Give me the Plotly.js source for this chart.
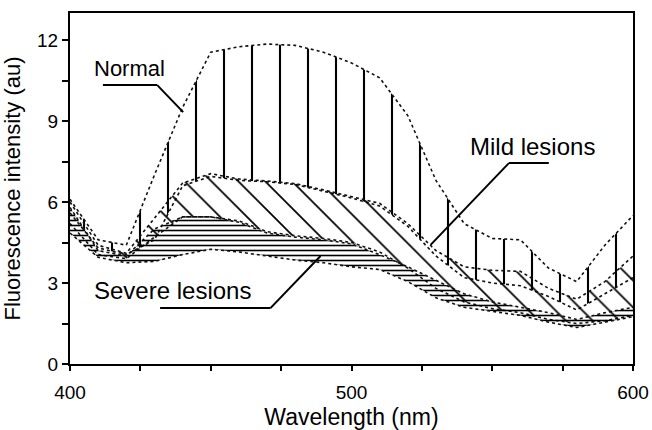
<!DOCTYPE html>
<html>
<head>
<meta charset="utf-8">
<script src="https://cdn.plot.ly/plotly-3.0.1.min.js"></script>
<style>html,body{margin:0;padding:0;background:#fff;}#chart{width:652px;height:430px;}</style>
</head>
<body>
<div id="chart"></div>
<script>
const wavelength = [400,410,420,430,440,450,460,470,480,490,500,510,520,530,540,550,560,570,580,590,600];
const normalUpper = [6.1,4.6,4.4,7.0,9.5,11.55,11.75,11.85,11.8,11.55,11.15,10.6,9.2,6.8,5.2,4.65,4.6,3.55,3.05,4.4,5.5];
const normalLower = [5.6,4.3,4.05,4.6,6.6,6.95,6.8,6.75,6.65,6.4,6.15,5.85,5.1,4.0,3.2,3.0,2.9,2.5,2.0,2.6,3.2];
const mildUpper   = [6.0,4.4,4.1,5.4,6.7,7.05,6.85,6.78,6.68,6.45,6.2,5.95,5.2,4.2,3.6,3.47,3.43,2.8,2.4,3.05,4.0];
const mildLower   = [5.2,4.05,3.9,4.7,5.45,5.45,5.3,4.9,4.75,4.65,4.5,4.15,3.55,2.8,2.3,2.05,1.9,1.65,1.5,1.6,1.8];
const severeUpper = [5.8,4.2,4.0,5.0,5.45,5.45,5.25,4.85,4.7,4.6,4.45,4.05,3.6,3.1,2.6,2.3,2.1,1.9,1.65,1.9,2.1];
const severeLower = [4.85,3.95,3.75,3.8,4.05,4.25,4.15,4.0,3.85,3.75,3.6,3.5,3.05,2.45,2.1,1.95,1.8,1.55,1.35,1.55,1.75];

const bandNames = ['Normal','Mild lesions','Severe lesions'];
const xTickVals = [400,425,450,475,500,525,550,575,600];
const xTickText = ['400','','','','500','','','','600'];
const yTickVals = [0,1.5,3,4.5,6,7.5,9,10.5,12];
const yTickText = ['0','','3','','6','','9','','12'];

const FONT = 'Liberation Sans, Arial, Helvetica, sans-serif';
const dotLine = {color:'#111', width:1.6, dash:'dot'};

function band(lower, upper, name, shape, size, solidity){
  return [
    {x: wavelength, y: lower, mode:'lines', line: dotLine, name: name+' low', showlegend:false, hoverinfo:'skip'},
    {x: wavelength, y: upper, mode:'lines', line: dotLine, name: name, showlegend:false, hoverinfo:'skip',
     fill:'tonexty', fillcolor:'rgba(0,0,0,0)',
     fillpattern:{shape: shape, size: size, solidity: solidity, fgcolor:'#000', bgcolor:'rgba(0,0,0,0)', fillmode:'replace'}}
  ];
}

const data = [].concat(
  band(normalLower, normalUpper, bandNames[0], '|', 28, 0.075),
  band(mildLower, mildUpper, bandNames[1], '\\', 19, 0.09),
  band(severeLower, severeUpper, bandNames[2], '-', 5, 0.32)
);

const lineStyle = {color:'#000', width:2};
const shapes = [
  {type:'line', xref:'x', yref:'y', x0:411.7, y0:10.33, x1:431, y1:10.33, line:lineStyle},
  {type:'line', xref:'x', yref:'y', x0:431, y0:10.33, x1:440.2, y1:9.33, line:lineStyle},
  {type:'line', xref:'x', yref:'y', x0:570.1, y0:7.44, x1:555.9, y1:7.44, line:lineStyle},
  {type:'line', xref:'x', yref:'y', x0:555.9, y0:7.44, x1:528.1, y1:4.41, line:lineStyle},
  {type:'line', xref:'x', yref:'y', x0:432, y0:2.07, x1:471.2, y1:2.07, line:lineStyle},
  {type:'line', xref:'x', yref:'y', x0:471.2, y0:2.07, x1:489, y1:4.0, line:lineStyle}
];

const annotations = [
  {x:421.0, y:10.93, xref:'x', yref:'y', text:bandNames[0], showarrow:false, font:{family:FONT, size:22, color:'#000'}},
  {x:564.4, y:8.07, xref:'x', yref:'y', text:bandNames[1], showarrow:false, font:{family:FONT, size:24, color:'#000'}},
  {x:436.3, y:2.74, xref:'x', yref:'y', text:bandNames[2], showarrow:false, font:{family:FONT, size:24, color:'#000'}}
];

const layout = {
  width:652, height:430,
  margin:{l:70, r:19, t:13, b:66},
  paper_bgcolor:'#fff', plot_bgcolor:'#fff',
  font:{family:FONT, color:'#000', size:19},
  showlegend:false,
  xaxis:{
    range:[400,600], tickmode:'array', tickvals:xTickVals, ticktext:xTickText,
    ticks:'outside', ticklen:5, tickwidth:2, tickcolor:'#000',
    showline:true, linewidth:2, linecolor:'#000', mirror:true,
    showgrid:false, zeroline:false, ticklabelstandoff:5,
    tickfont:{family:FONT, size:19, color:'#000'},
    title:{text:'Wavelength (nm)', font:{family:FONT, size:23, color:'#000'}, standoff:8}
  },
  yaxis:{
    range:[0,13], tickmode:'array', tickvals:yTickVals, ticktext:yTickText,
    ticks:'outside', ticklen:6, tickwidth:2, tickcolor:'#000',
    showline:true, linewidth:2, linecolor:'#000', mirror:true,
    showgrid:false, zeroline:false,
    tickfont:{family:FONT, size:19, color:'#000'},
    title:{text:'Fluorescence intensity (au)', font:{family:FONT, size:22, color:'#000'}, standoff:10}
  },
  shapes: shapes,
  annotations: annotations
};

Plotly.newPlot('chart', data, layout, {displayModeBar:false, staticPlot:true});
</script>
</body>
</html>
